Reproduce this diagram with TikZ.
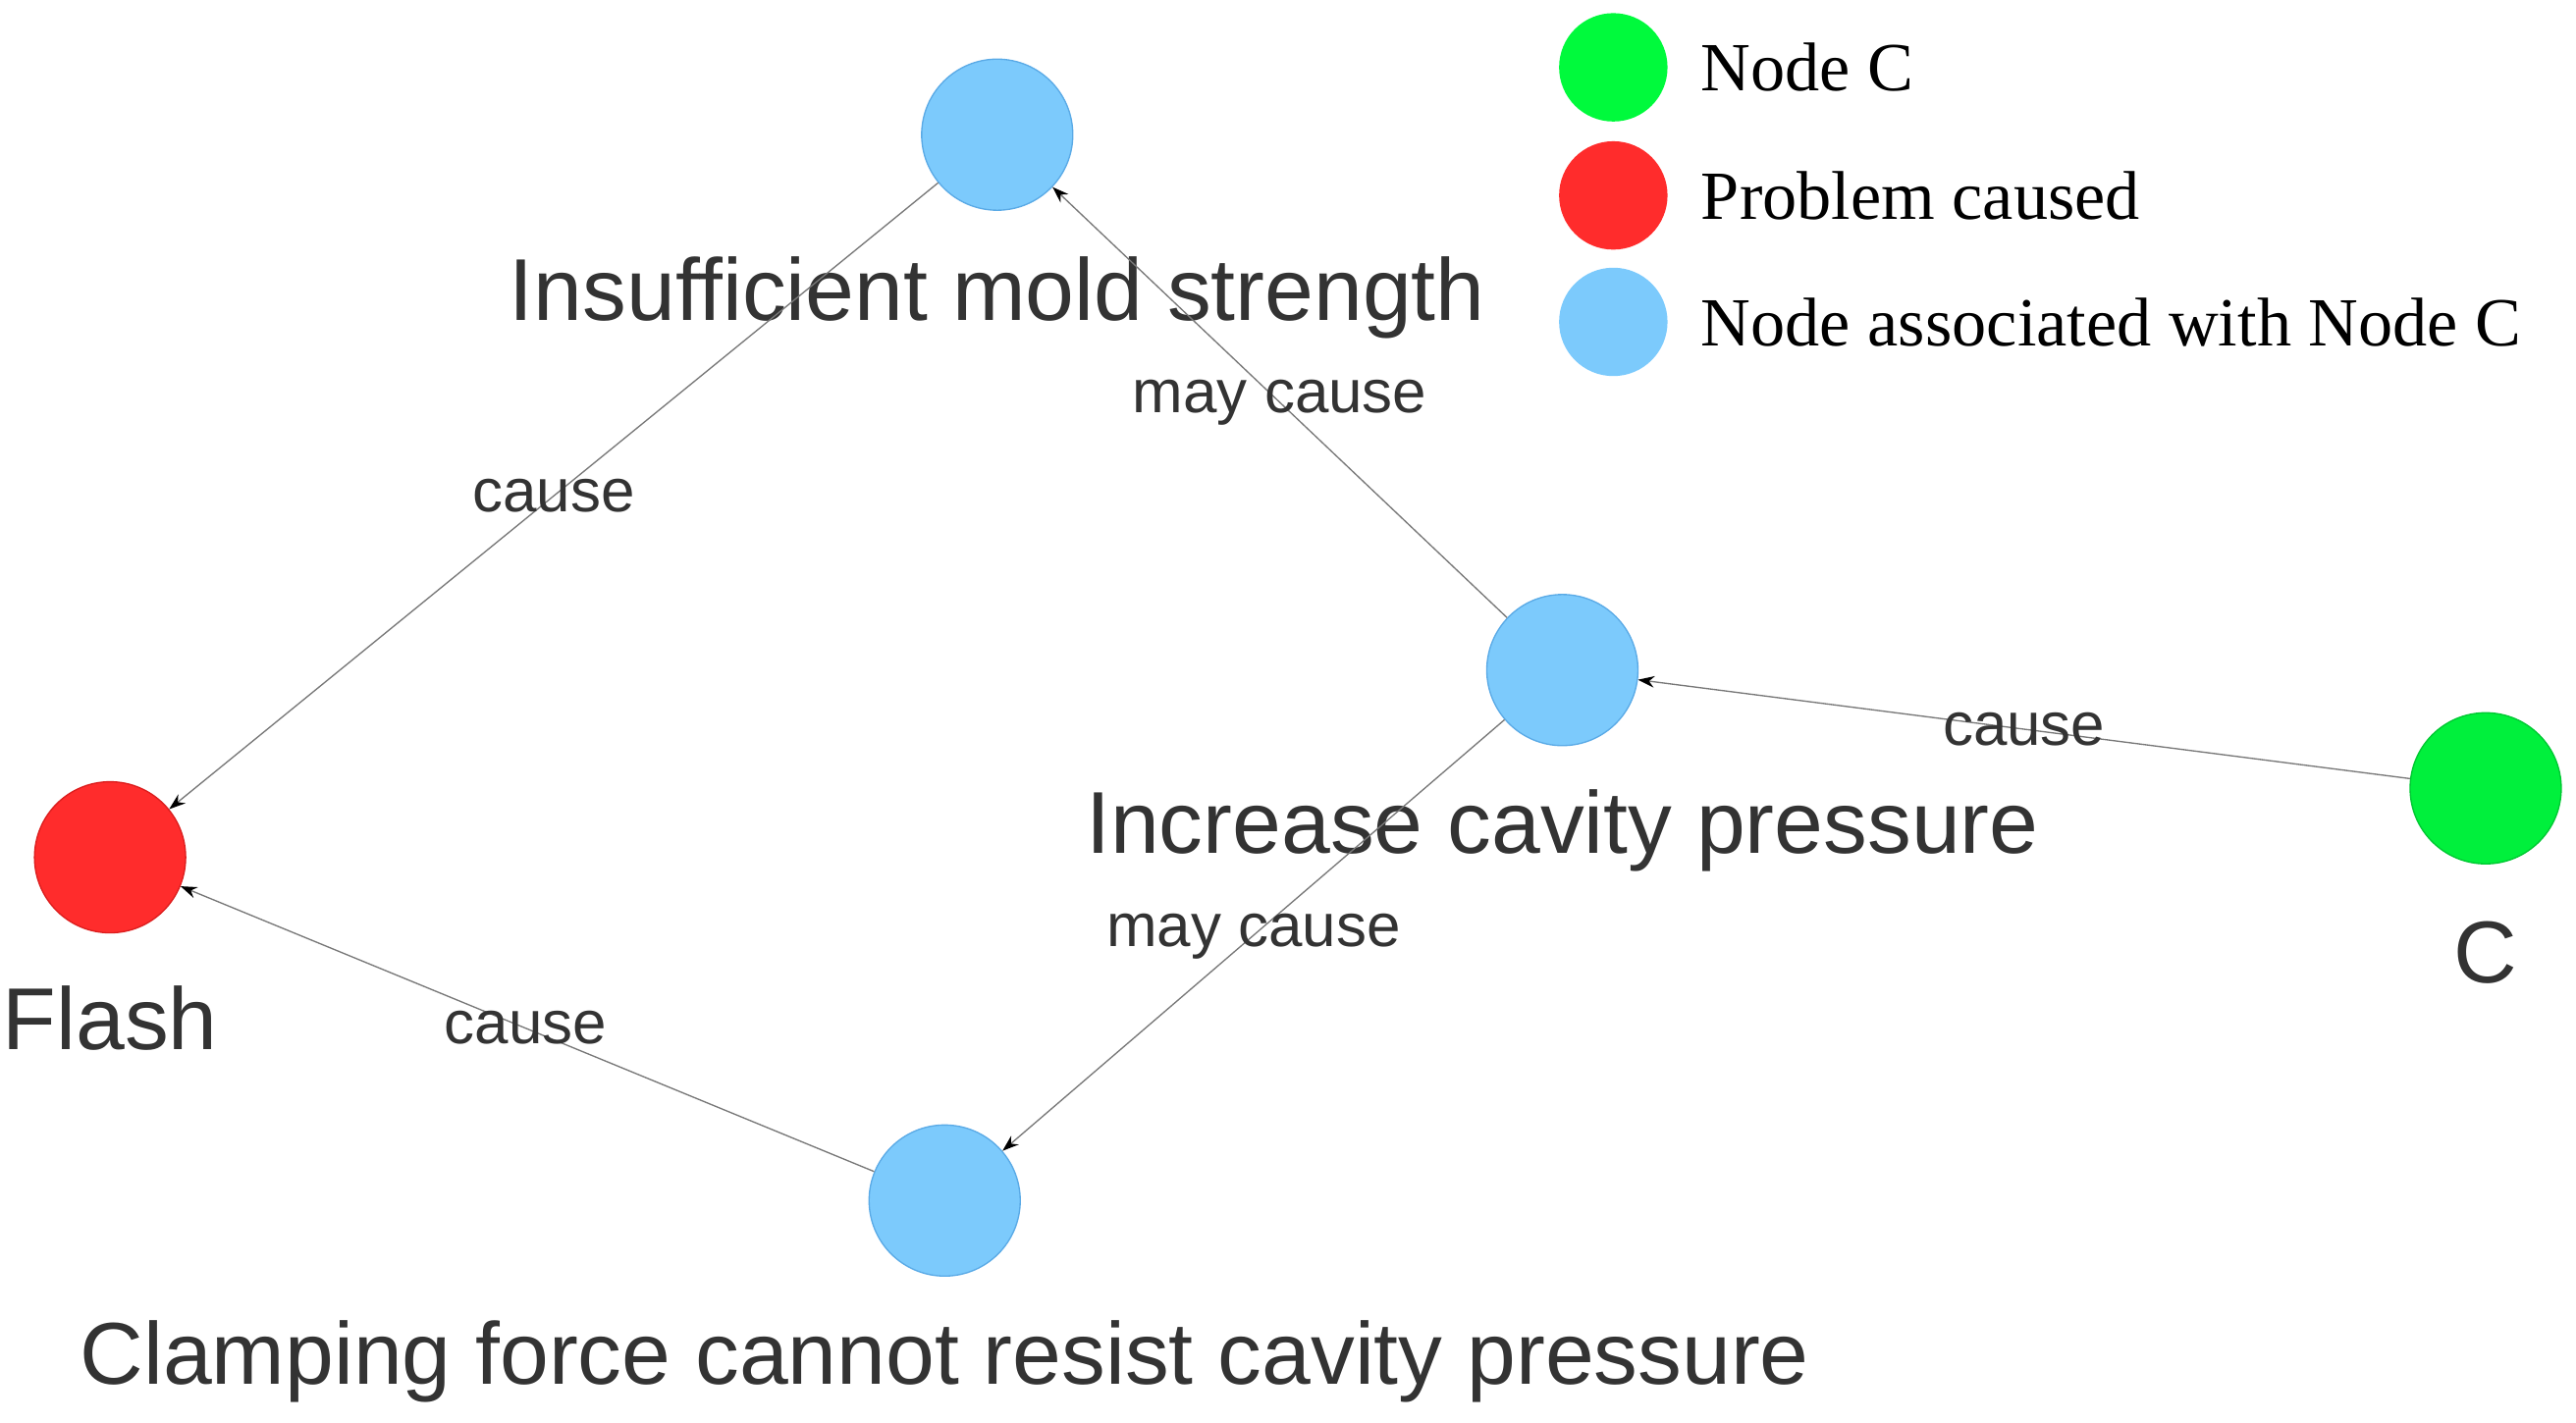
\documentclass[tikz,border=0pt]{standalone}
\usepackage{fontspec}
\setmainfont{Liberation Sans}
\newfontfamily\legfont{Liberation Serif}
\usetikzlibrary{arrows.meta}
\begin{document}
\begin{tikzpicture}[x=1pt,y=-1pt,
  nd/.style={circle,minimum size=92pt,inner sep=0pt,line width=0.8pt},
  blue/.style={nd,fill={rgb,255:red,124;green,202;blue,252},draw={rgb,255:red,90;green,170;blue,230}},
  red/.style={nd,fill={rgb,255:red,255;green,44;blue,44},draw={rgb,255:red,220;green,30;blue,30}},
  green/.style={nd,fill={rgb,255:red,0;green,240;blue,60},draw={rgb,255:red,0;green,200;blue,50}},
  lg/.style={circle,minimum size=66pt,inner sep=0pt},
  lab/.style={font=\fontsize{53.5}{58}\selectfont,text={rgb,255:red,51;green,51;blue,51}},
  el/.style={font=\fontsize{37}{40}\selectfont,text={rgb,255:red,51;green,51;blue,51}},
  leg/.style={font=\legfont\fontsize{42}{46}\selectfont,anchor=west},
  e/.style={draw={rgb,255:red,120;green,120;blue,120},line width=0.8pt,-{Stealth[length=10pt,width=7pt,black]}}]
\useasboundingbox (0,0) rectangle (1568,866);
\node[blue] (ins) at (607,82) {};
\node[blue] (inc) at (951,408) {};
\node[green] (c) at (1513,480) {};
\node[red] (fl) at (67,522) {};
\node[blue] (cl) at (575,731) {};
\node[lab] at (607,181) {Insufficient mold strength};
\node[lab] at (951,506) {Increase cavity pressure};
\node[lab] at (1513,580) {C};
\node[lab] at (67,620) {Flash};
\node[lab] at (575,829) {Clamping force cannot resist cavity pressure};
\draw[e] (ins) -- (fl);
\draw[e] (inc) -- (ins);
\draw[e] (c) -- (inc);
\draw[e] (inc) -- (cl);
\draw[e] (cl) -- (fl);
\node[el] at (337,302) {cause};
\node[el] at (779,245) {may cause};
\node[el] at (1232,444) {cause};
\node[el] at (763,570) {may cause};
\node[el] at (320,626) {cause};
\node[lg,fill={rgb,255:red,0;green,250;blue,60}] (l1) at (982,41) {};
\node[lg,fill={rgb,255:red,255;green,44;blue,44}] (l2) at (982,119) {};
\node[lg,fill={rgb,255:red,124;green,202;blue,252}] (l3) at (982,196) {};
\node[leg] at (1032,41) {Node C};
\node[leg] at (1032,119) {Problem caused};
\node[leg] at (1032,196) {Node associated with Node C};
\end{tikzpicture}
\end{document}
